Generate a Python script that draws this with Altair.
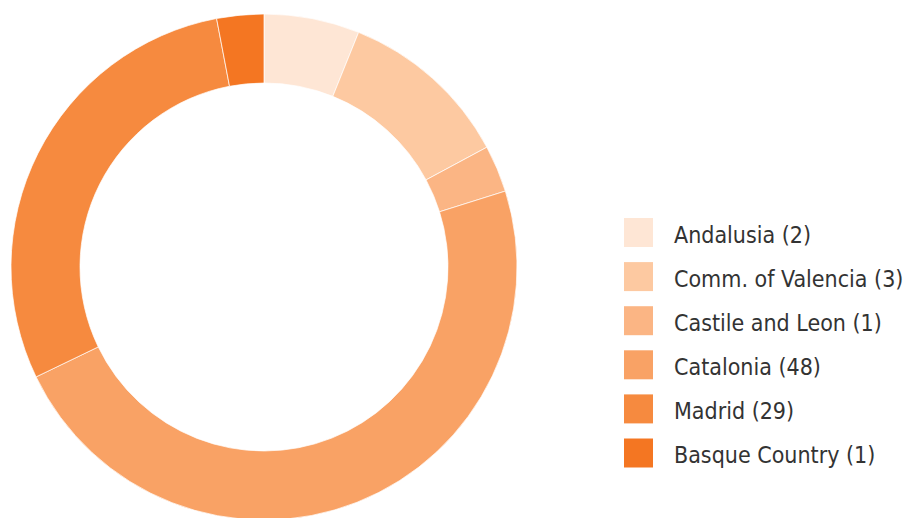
import altair as alt
import pandas as pd

regions = ["Andalusia", "Comm. of Valencia", "Castile and Leon", "Catalonia", "Madrid", "Basque Country"]
counts = [2, 3, 1, 48, 29, 1]
shares = [6.1, 11.05, 3.0, 47.7, 29.15, 3.0]
colors = ["#fee6d5", "#fdc9a1", "#fbb584", "#f9a265", "#f68a3f", "#f47622"]

labels = [f"{r} ({c})" for r, c in zip(regions, counts)]
df = pd.DataFrame({"label": labels, "share": shares, "idx": list(range(len(labels)))})

color = alt.Color("label:N", sort=labels, scale=alt.Scale(domain=labels, range=colors), legend=None)
ypos = alt.Y("label:N", sort=labels,
             scale=alt.Scale(type="point", domain=labels, range=[232.5, 453], padding=0),
             axis=None)

donut = alt.Chart(df).mark_arc(radius=253, radius2=184, stroke="#ffffff", strokeWidth=0.7).encode(
    theta=alt.Theta("share:Q", stack=True),
    order=alt.Order("idx:Q"),
    x=alt.value(264),
    y=alt.value(267),
    color=color,
)

swatches = alt.Chart(df).mark_square(size=841, opacity=1, strokeWidth=0).encode(
    x=alt.value(638.5),
    y=ypos,
    color=color,
)

texts = alt.Chart(df).mark_text(
    align="left", baseline="alphabetic", dy=10.3,
    font="DejaVu Sans Condensed", fontSize=23, color="#333333",
).encode(
    x=alt.value(674),
    y=ypos,
    text="label:N",
)

chart = alt.layer(donut, swatches, texts).properties(
    width=907, height=534, padding=0, autosize=alt.AutoSizeParams(type="none")
).configure_view(stroke=None)

chart.save("out.html", embed_options={"renderer": "svg", "actions": False})
